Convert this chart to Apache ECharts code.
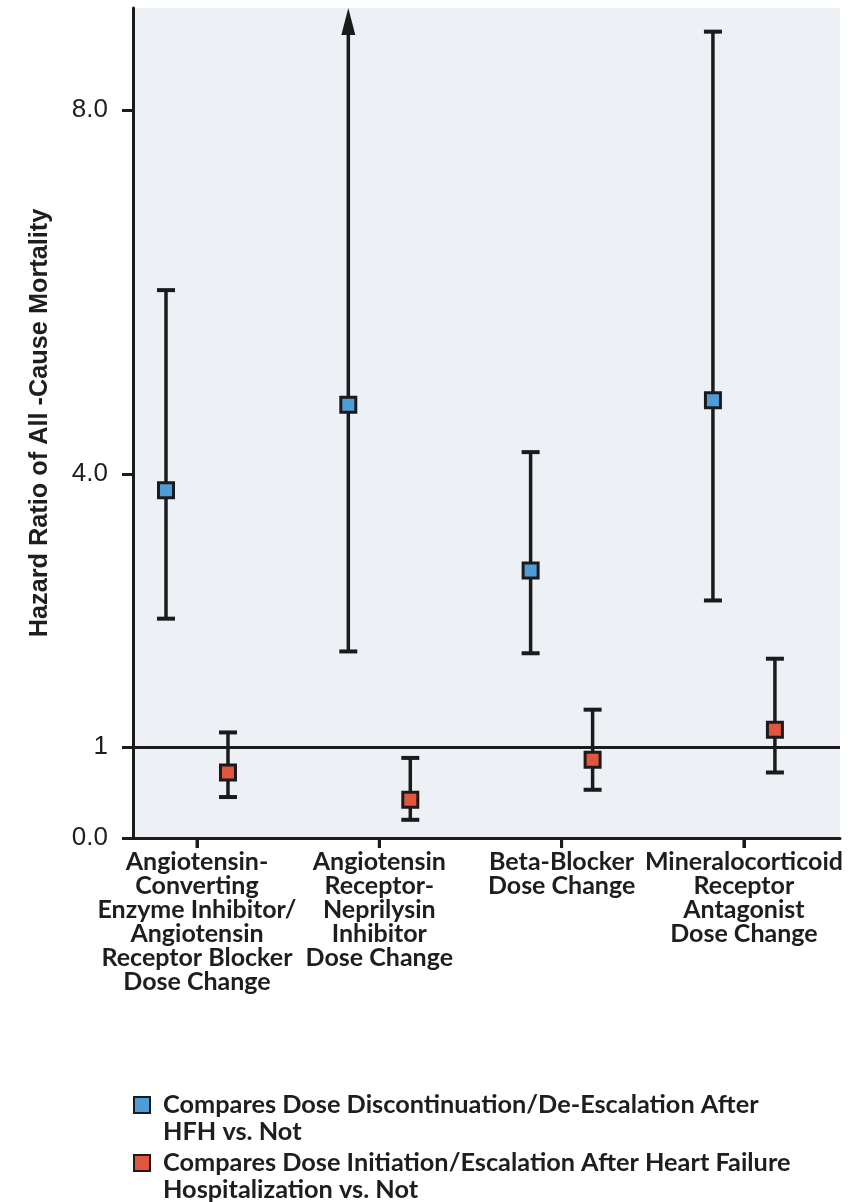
<!DOCTYPE html>
<html>
<head>
<meta charset="utf-8">
<script src="https://cdn.jsdelivr.net/npm/echarts@6/dist/echarts.min.js"></script>
<style>
html,body{margin:0;padding:0;background:#fff;}
#chart{width:864px;height:1202px;}
</style>
</head>
<body>
<div id="chart"></div>
<script>
// ---- data ----
const categories = [
  "Angiotensin-\nConverting\nEnzyme Inhibitor/\nAngiotensin\nReceptor Blocker\nDose Change",
  "Angiotensin\nReceptor-\nNeprilysin\nInhibitor\nDose Change",
  "Beta-Blocker\nDose Change",
  "Mineralocorticoid\nReceptor\nAntagonist\nDose Change"
];
const seriesNames = [
  "Compares Dose Discontinuation/De-Escalation After\nHFH vs. Not",
  "Compares Dose Initiation/Escalation After Heart Failure\nHospitalization vs. Not"
];
const deEscHR    = [3.82, 4.76, 2.94, 4.81];
const deEscLower = [2.41, 2.05, 2.03, 2.61];
const deEscUpper = [6.02, null, 4.24, 8.86]; // null = upper limit beyond the axis (arrow)
const escHR      = [0.72, 0.42, 0.86, 1.19];
const escLower   = [0.45, 0.20, 0.53, 0.72];
const escUpper   = [1.16, 0.88, 1.41, 1.97];
const yTickValues = [0, 1, 4, 8];
const yTickLabels = ["0.0", "1", "4.0", "8.0"];
const referenceHR = 1;

// ---- layout constants ----
const Y_MAX = 9.12;
const X_MIN = -0.351, X_MAX = 3.527;
const OFFSET = 0.17;
const INK = '#1b1b1b';
const TEXT = '#1f1d1e';
const BLUE = '#4f9dd6';
const RED = '#e2553f';
const LABEL_FONT = 'Lato';

const xTickValues = categories.map((c, i) => i);

function barData(lower, upper, off) {
  return lower.map((lo, i) => [i + off, lo, upper[i] == null ? Y_MAX : upper[i], upper[i] == null ? 1 : 0]);
}
function pointData(hr, off) {
  return hr.map((v, i) => [i + off, v]);
}

function renderErrorBar(params, api) {
  const x = api.value(0), lo = api.value(1), hi = api.value(2), arrow = api.value(3);
  const pLo = api.coord([x, lo]);
  const pHi = api.coord([x, hi]);
  const hw = 9;
  const st = { stroke: INK, lineWidth: 3.5, fill: null };
  const children = [
    { type: 'line', shape: { x1: pLo[0], y1: pLo[1], x2: pHi[0], y2: arrow ? pHi[1] + 20 : pHi[1] }, style: st },
    { type: 'line', shape: { x1: pLo[0] - hw, y1: pLo[1], x2: pLo[0] + hw, y2: pLo[1] }, style: { stroke: INK, lineWidth: 4 } }
  ];
  if (arrow) {
    children.push({ type: 'polygon', shape: { points: [[pHi[0], pHi[1]], [pHi[0] - 7, pHi[1] + 27], [pHi[0] + 7, pHi[1] + 27]] }, style: { fill: INK } });
  } else {
    children.push({ type: 'line', shape: { x1: pHi[0] - hw, y1: pHi[1], x2: pHi[0] + hw, y2: pHi[1] }, style: { stroke: INK, lineWidth: 4 } });
  }
  return { type: 'group', children };
}

// category tick marks below the x axis, positioned through the axis scale
function renderCategoryTick(params, api) {
  const p = api.coord([api.value(0), api.value(1)]);
  return { type: 'line', shape: { x1: p[0], y1: p[1], x2: p[0], y2: p[1] + 10 }, style: { stroke: INK, lineWidth: 3 } };
}

const richTextBase = { fontFamily: LABEL_FONT, fontWeight: 'bold', color: TEXT };
const legendRich = { t: Object.assign({ fontSize: 25.3, lineHeight: 27, padding: [0, 0, 0, 8] }, richTextBase) };
const legendTextStyle = Object.assign({ fontSize: 25.3, lineHeight: 27, rich: legendRich }, richTextBase);
function legendFormatter(name) {
  // blank first line so that the icon lines up with the first text line
  return '{t|\u00a0}\n' + name.split('\n').map(l => '{t|' + l + '}').join('\n');
}

const chart = echarts.init(document.getElementById('chart'), null, { renderer: 'canvas' });
chart.setOption({
  animation: false,
  backgroundColor: '#ffffff',
  grid: { left: 133, right: 24, top: 8, bottom: 364, show: true, backgroundColor: '#edf1f6', borderWidth: 0 },
  xAxis: {
    type: 'value', min: X_MIN, max: X_MAX,
    axisLine: { show: true, onZero: false, lineStyle: { color: INK, width: 3 } },
    axisTick: { show: true, customValues: xTickValues, length: 10, lineStyle: { color: INK, width: 3 } },
    axisLabel: {
      customValues: xTickValues,
      formatter: v => categories[Math.round(v)],
      margin: 12, fontFamily: LABEL_FONT, fontWeight: 'bold', fontSize: 25, lineHeight: 24, color: TEXT, align: 'center'
    },
    splitLine: { show: false }
  },
  yAxis: {
    type: 'value', min: 0, max: Y_MAX,
    name: 'Hazard Ratio of All -Cause Mortality', nameLocation: 'middle', nameGap: 80, nameRotate: 90,
    nameTextStyle: { fontFamily: 'Liberation Sans', fontWeight: 'bold', fontSize: 25.3, color: TEXT },
    axisLine: { show: true, onZero: false, lineStyle: { color: INK, width: 3 } },
    axisTick: { show: true, customValues: yTickValues, length: 11, lineStyle: { color: INK, width: 3 } },
    axisLabel: {
      customValues: yTickValues,
      formatter: v => yTickLabels[yTickValues.indexOf(v)],
      margin: 25, fontFamily: 'Liberation Sans', fontSize: 26, color: TEXT
    },
    splitLine: { show: false }
  },
  legend: [
    { data: [seriesNames[0]], left: 128, top: 1105 - 40.5 - 5, icon: 'rect', itemWidth: 16, itemHeight: 16, textStyle: legendTextStyle, formatter: legendFormatter, selectedMode: false },
    { data: [seriesNames[1]], left: 128, top: 1163 - 40.5 - 5, icon: 'rect', itemWidth: 16, itemHeight: 16, textStyle: legendTextStyle, formatter: legendFormatter, selectedMode: false }
  ],
  series: [
    {
      type: 'custom', name: 'bars-deesc', renderItem: renderErrorBar, data: barData(deEscLower, deEscUpper, -OFFSET),
      encode: { x: 0, y: [1, 2] }, z: 3, silent: true,
      markLine: {
        silent: true, symbol: 'none', label: { show: false },
        lineStyle: { color: INK, width: 3, type: 'solid' },
        data: [{ yAxis: referenceHR }]
      }
    },
    { type: 'custom', name: 'bars-esc', renderItem: renderErrorBar, data: barData(escLower, escUpper, OFFSET), encode: { x: 0, y: [1, 2] }, z: 3, silent: true },
    {
      type: 'custom', name: 'category-ticks', renderItem: renderCategoryTick, clip: false, silent: true, z: 2,
      data: xTickValues.map(v => [v, 0]), encode: { x: 0, y: 1 }
    },
    {
      type: 'scatter', name: seriesNames[0], data: pointData(deEscHR, -OFFSET), symbol: 'rect', symbolSize: 15, z: 5,
      itemStyle: { color: BLUE, borderColor: INK, borderWidth: 3, opacity: 1 }
    },
    {
      type: 'scatter', name: seriesNames[1], data: pointData(escHR, OFFSET), symbol: 'rect', symbolSize: 15, z: 5,
      itemStyle: { color: RED, borderColor: INK, borderWidth: 3, opacity: 1 }
    }
  ]
});
</script>
</body>
</html>
